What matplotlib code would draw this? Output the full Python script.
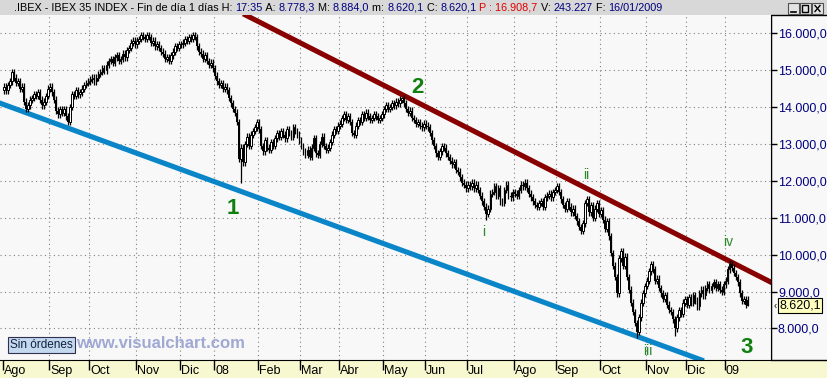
import matplotlib
matplotlib.use("Agg")
import numpy as np
import matplotlib.pyplot as plt
import matplotlib.transforms as mtransforms
from matplotlib.patches import Rectangle
from matplotlib.lines import Line2D

plt.rcParams["font.family"] = ["Liberation Sans", "DejaVu Sans"]

W, H = 828, 378

# month labels on the time axis (one per trading month)
months = ["Ago", "Sep", "Oct", "Nov", "Dic", "08", "Feb", "Mar", "Abr", "May",
          "Jun", "Jul", "Ago", "Sep", "Oct", "Nov", "Dic", "09"]

# daily closes, one list per month
aug07 = [14550, 14450, 14600, 14700, 14950, 14800, 14650, 14700, 14500, 14550, 14150, 13950,
         14050, 14200, 14250, 14350, 14300, 14400, 14200, 14050, 14150, 14300, 14500]
sep07 = [14550, 14400, 14200, 13900, 13800, 13950, 13850, 13950, 13750, 13600, 14000, 14350,
         14300, 14450, 14350, 14400, 14500, 14600, 14650, 14700]
oct07 = [14750, 14800, 14700, 14800, 14900, 14950, 15050, 15000, 15150, 15250, 15300, 15200,
         15350, 15400, 15250, 15300, 15450, 15350, 15550, 15600, 15750, 15800, 15700]
nov07 = [15800, 15850, 15950, 15900, 15850, 15950, 15900, 15750, 15800, 15650, 15700, 15600,
         15500, 15450, 15300, 15350, 15250, 15400, 15500, 15650, 15600, 15700]
dec07 = [15700, 15750, 15850, 15800, 15900, 15850, 15950, 15900, 15650, 15500, 15450, 15300,
         15400, 15250, 15150, 15200, 15050]
jan08 = [14850, 14700, 14600, 14650, 14500, 14550, 14450, 14250, 14100, 13950, 13850, 13600,
         12600, 12900, 12500, 13000, 13200, 12950, 13250, 13350, 13450, 13600]
feb08 = [13400, 12950, 12800, 13100, 12900, 12850, 13050, 12950, 13150, 13300, 13200, 13350,
         13250, 13150, 13400, 13300, 13200, 13450, 13350, 13250, 13100]
mar08 = [12950, 12800, 12700, 12850, 12650, 12900, 13150, 12750, 12700, 13000, 13200, 12950,
         12850, 12900, 13050, 13250, 13400, 13350, 13500]
apr08 = [13550, 13700, 13800, 13650, 13750, 13600, 13300, 13250, 13500, 13650, 13600, 13800,
         13700, 13850, 13750, 13650, 13700, 13800, 13750, 13650, 13700, 13800]
may08 = [13950, 14050, 13950, 14000, 14100, 14050, 14150, 14100, 14200, 14250, 14100, 13950,
         13850, 13900, 13700, 13650, 13550, 13600, 13500, 13450, 13550]
jun08 = [13500, 13450, 13300, 13100, 12950, 12750, 12650, 12800, 12950, 12900, 12750, 12650,
         12550, 12450, 12500, 12300, 12250, 12100, 11950, 11900, 11800]
jul08 = [11900, 11850, 11950, 11800, 11900, 11750, 11600, 11450, 11300, 11100, 11250, 11650,
         11700, 11850, 11600, 11800, 11450, 11400, 11750, 11900, 11600, 11550, 11700]
aug08 = [11650, 11600, 11750, 11900, 11850, 11950, 11800, 11650, 11550, 11450, 11350, 11300,
         11400, 11450, 11300, 11550, 11600, 11650, 11550, 11700, 11750]
sep08 = [11850, 11700, 11500, 11350, 11250, 11450, 11300, 11150, 11250, 11050, 10900, 10750,
         10650, 10850, 11400, 11500, 11150, 11350, 11000, 11250, 11400, 11100]
oct08 = [11200, 10950, 10700, 10900, 10500, 10050, 9700, 9400, 8950, 9900, 10100, 9700,
         9950, 9400, 9050, 8700, 8450, 8150, 7900, 8300, 8700, 8950, 9150]
nov08 = [9300, 9550, 9750, 9600, 9300, 9350, 9100, 8950, 8800, 8900, 8650, 8500,
         8450, 8250, 8000, 8300, 8500, 8400, 8700, 8800]
dec08 = [8650, 8850, 8700, 8900, 8750, 8600, 8950, 9050, 8900, 9100, 9200, 9050,
         9150, 9250, 9100, 9200, 9050, 9000, 9200]
jan09 = [9300, 9600, 9750, 9650, 9500, 9400, 9250, 8950, 8750, 8800, 8650, 8620.1]

monthly = [aug07, sep07, oct07, nov07, dec07, jan08, feb08, mar08, apr08, may08,
           jun08, jul08, aug08, sep08, oct08, nov08, dec08, jan09]

first_open = 14450.0
last_open, last_high, last_low, last_close = 8778.3, 8884.0, 8620.1, 8620.1
last_time = "17:35"
last_date = "16/01/2009"
p_value = 16908.7
volume = "243.227"

# notable wick extremes (trading day index -> value)
extra_highs = {198: 14270, 361: 9850, 370: last_high}
extra_lows = {118: 11950, 240: 10950, 315: 7750, 334: 7800, 370: last_low}

# trend lines, two points each (day index, value)
upper_line = [(281.6, 12024), (381.1, 9268)]
lower_line = [(0.5, 14057), (346.3, 7160)]

# wave labels: text, day index, value, big?
waves = [("1", 113.6, 11257, True), ("2", 205.7, 14518, True), ("3", 369.7, 7472, True),
         ("i", 238.7, 10607, False), ("ii", 289.6, 12160, False),
         ("iii", 320.1, 7390, False), ("iv", 360.2, 10344, False)]

y_ticks = list(range(8000, 16001, 1000))


def es_num(v, dec=1):
    s = f"{v:,.{dec}f}"
    return s.replace(",", "X").replace(".", ",").replace("X", ".")


def fx(px):
    return px / W


def fy(py):
    return 1 - py / H


closes = np.concatenate([np.array(m, dtype=float) for m in monthly])
days = np.arange(len(closes))
month_start = np.cumsum([0] + [len(m) for m in monthly[:-1]])

opens = np.r_[first_open, closes[:-1]]
opens[-1] = last_open
wick = 90
highs = np.maximum(opens, closes) + wick
lows = np.minimum(opens, closes) - wick
for d, v in extra_highs.items():
    highs[d] = v
for d, v in extra_lows.items():
    lows[d] = v

bg = "#f8f8f8"
navy = "#000080"
fig = plt.figure(figsize=(W / 100, H / 100), dpi=100)
fig.patch.set_facecolor(bg)

# header bar, bottom time band, right price panel
fig.add_artist(Rectangle((0, fy(16)), 1, 16 / H, transform=fig.transFigure,
                         facecolor="#d8d8d8", edgecolor="none", zorder=-2))
fig.add_artist(Rectangle((0, 0), 1, 18 / H, transform=fig.transFigure,
                         facecolor="#f8f8d0", edgecolor="none", zorder=-2))
fig.add_artist(Rectangle((fx(771), fy(360)), fx(60), 345 / H, transform=fig.transFigure,
                         facecolor=bg, edgecolor="black", linewidth=1, zorder=-1))

ax = fig.add_axes([0, 18 / H, fx(771), 345 / H])
ax.set_facecolor(bg)
ax.set_xlim(-1.99, 381.6)
ax.set_ylim(7146, 16496)

# grid
for v in y_ticks:
    ax.axhline(v, color="#808080", lw=0.8, ls=(0, (1, 3)), zorder=1)
for s in month_start[1:]:
    ax.axvline(s - 0.5, color="#808080", lw=0.8, ls=(0, (1, 3)), zorder=1)

# trend lines
ax.axline(upper_line[0], upper_line[1], color="#880000", lw=3.7, zorder=2)
ax.axline(lower_line[0], lower_line[1], color="#0a86c8", lw=3.7, zorder=2)

# candles
ax.vlines(days, lows, highs, color="black", lw=0.9, zorder=3)
up = closes >= opens
ax.bar(days[up], (closes - opens)[up], bottom=opens[up], width=0.9,
       facecolor="white", edgecolor="black", linewidth=0.7, zorder=4)
ax.bar(days[~up], (opens - closes)[~up], bottom=closes[~up], width=0.9,
       color="black", linewidth=0, zorder=4)

# wave labels
for txt, d, v, big in waves:
    if big:
        ax.text(d, v, txt, color="#0f800f", fontsize=16, fontweight="bold",
                ha="center", va="center", zorder=5)
    else:
        ax.text(d, v, txt, color="#2a8a2a", fontsize=10, ha="center", va="center", zorder=5)

# axes styling
for side in ["top", "left"]:
    ax.spines[side].set_visible(False)
ax.spines["right"].set_color("black")
ax.spines["bottom"].set_color("black")
ax.yaxis.tick_right()
ax.set_yticks(y_ticks)
ax.set_yticklabels([es_num(v) for v in y_ticks])
ax.tick_params(axis="y", direction="out", length=4, width=1, colors="black",
               labelcolor=navy, labelsize=9, pad=1)
ax.set_xticks(month_start - 0.5)
ax.tick_params(axis="x", direction="out", length=7, width=1, labelbottom=False)
xt = ax.get_xaxis_transform()
for s, name in zip(month_start, months):
    ax.text(s, -0.033, name, transform=xt, ha="left", va="center",
            fontsize=9, color="black", clip_on=False)

# last price tag on the price axis
pt = mtransforms.blended_transform_factory(fig.transFigure, ax.transData)
fig.text(fx(800), last_close, es_num(last_close), transform=pt, ha="center", va="center",
         fontsize=9, color="black",
         bbox=dict(boxstyle="square,pad=0.12", fc="#ffffc0", ec="black", lw=0.8))
fig.text(fx(775), last_close, "‹", transform=pt, ha="center", va="center",
         fontsize=7, color="black")

# header text, chained segments fitted to the header width
segments = [
    (".IBEX - IBEX 35 INDEX - Fin de día 1 días H: ", "black"), (last_time, navy),
    (" A: ", "black"), (es_num(last_open), navy),
    (" M: ", "black"), (es_num(last_high), navy),
    (" m: ", "black"), (es_num(last_low), navy),
    (" C: ", "black"), (es_num(last_close), navy),
    (" P : " + es_num(p_value), "#e00000"),
    (" V: ", "black"), (volume, navy),
    (" F: ", "black"), (last_date, navy),
]
renderer = fig.canvas.get_renderer()
probe = fig.text(0, 0, "".join(s for s, _ in segments), fontsize=10)
full_w = probe.get_window_extent(renderer).width
probe.remove()
hsize = 10 * (665 - 14) / full_w
x = fx(14)
for txt, col in segments:
    t = fig.text(x, fy(8), txt, color=col, fontsize=hsize, ha="left", va="center")
    x += t.get_window_extent(renderer).width / W

# window buttons
for i, x0 in enumerate([788, 800, 812]):
    fig.add_artist(Rectangle((fx(x0), fy(14)), fx(11), 11 / H, transform=fig.transFigure,
                             facecolor="#e4e4e4", edgecolor="#505050", lw=0.8))
    if i == 0:
        fig.add_artist(Line2D([fx(x0 + 3), fx(x0 + 8)], [fy(11.5), fy(11.5)], color="black", lw=1.2))
    elif i == 1:
        fig.add_artist(Rectangle((fx(x0 + 2.5), fy(11.5)), fx(6), 7 / H, transform=fig.transFigure,
                                 facecolor="none", edgecolor="black", lw=1))
    else:
        fig.add_artist(Line2D([fx(x0 + 3), fx(x0 + 8)], [fy(5.5), fy(11.5)], color="black", lw=1))
        fig.add_artist(Line2D([fx(x0 + 3), fx(x0 + 8)], [fy(11.5), fy(5.5)], color="black", lw=1))

# footer boxes
fig.text(fx(10), fy(345), "Sin órdenes", fontsize=8.5, color="#102040", ha="left", va="center",
         bbox=dict(boxstyle="square,pad=0.15", fc="#c4d8ee", ec="#303050", lw=0.8))
fig.text(fx(76), fy(344), "www.visualchart.com", fontsize=12, fontweight="bold",
         color="#a0a8d4", ha="left", va="center")

fig.savefig("out.png", dpi=100, facecolor=bg)
